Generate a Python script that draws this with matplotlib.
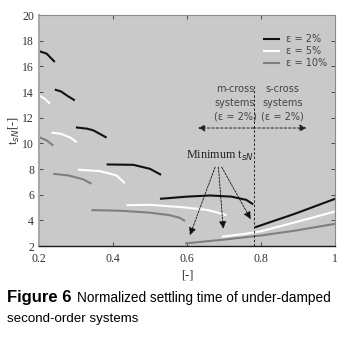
import matplotlib
matplotlib.use("Agg")
import matplotlib.pyplot as plt

# ---- data ----
# epsilon = 2 % (black) segments
b_x = [[0.200, 0.221, 0.243],
       [0.243, 0.260, 0.275, 0.297],
       [0.300, 0.330, 0.347, 0.383],
       [0.383, 0.455, 0.500, 0.530],
       [0.527, 0.600, 0.662, 0.720, 0.760, 0.779],
       [0.784, 0.892, 1.000]]
b_y = [[17.20, 17.00, 16.35],
       [14.20, 14.05, 13.75, 13.35],
       [11.25, 11.15, 11.02, 10.45],
       [8.36, 8.33, 8.02, 7.55],
       [5.68, 5.85, 5.94, 5.85, 5.60, 5.25],
       [3.46, 4.52, 5.68]]
# epsilon = 5 % (white) segments
w_x = [[0.200, 0.215, 0.230],
       [0.234, 0.260, 0.285, 0.302],
       [0.306, 0.365, 0.410, 0.432],
       [0.437, 0.500, 0.590, 0.653, 0.680, 0.707],
       [0.694, 0.757, 0.800, 0.892, 1.000]]
w_y = [[13.75, 13.50, 13.10],
       [10.84, 10.75, 10.45, 10.10],
       [7.95, 7.84, 7.50, 6.90],
       [5.18, 5.21, 5.02, 4.82, 4.63, 4.40],
       [2.73, 2.95, 3.15, 3.85, 4.69]]
# epsilon = 10 % (gray) segments
g_x = [[0.200, 0.220, 0.239],
       [0.239, 0.280, 0.320, 0.342],
       [0.342, 0.420, 0.500, 0.554, 0.580, 0.595],
       [0.595, 0.700, 0.800, 0.892, 1.000]]
g_y = [[10.50, 10.25, 9.84],
       [7.63, 7.50, 7.20, 6.85],
       [4.80, 4.75, 4.60, 4.40, 4.20, 3.95],
       [2.20, 2.50, 2.82, 3.20, 3.73]]

labels = ["ε = 2%", "ε = 5%", "ε = 10%"]
x_ticks = [0.2, 0.4, 0.6, 0.8, 1.0]
x_tick_labels = ["0.2", "0.4", "0.6", "0.8", "1"]
y_ticks = [2, 4, 6, 8, 10, 12, 14, 16, 18, 20]

boundary_x = 0.78          # m-cross / s-cross boundary
boundary_top = 14.5
arrow_y = 11.2
arrow_left, arrow_right = 0.63, 0.923
min_text_xy = (0.689, 9.05)
min_tails = [(0.676, 8.15), (0.685, 8.15), (0.694, 8.15)]
min_tips = [(0.608, 2.85), (0.698, 3.35), (0.772, 4.10)]

# ---- figure ----
fig = plt.figure(figsize=(3.44, 3.37), dpi=100)
ax = fig.add_axes([0.113, 0.27, 0.861, 0.685])
ax.set_facecolor("#c9c9c9")

styles = [("#111111", b_x, b_y), ("#ffffff", w_x, w_y), ("#7f7f7f", g_x, g_y)]
for (col, xs, ys), lab in zip(styles, labels):
    for i, (xx, yy) in enumerate(zip(xs, ys)):
        ax.plot(xx, yy, color=col, lw=1.5, solid_capstyle="butt",
                label=lab if i == 0 else None)

ax.set_xlim(0.2, 1.0)
ax.set_ylim(2, 20)
ax.set_xticks(x_ticks)
ax.set_xticklabels(x_tick_labels)
ax.set_yticks(y_ticks)
ax.tick_params(direction="in", length=3, width=0.6, top=True, right=True,
               labelsize=8.5, colors="#333333")
ax.tick_params(axis="x", pad=5)
ax.tick_params(axis="y", pad=3.5)
for t in ax.get_xticklabels() + ax.get_yticklabels():
    t.set_family("Liberation Serif")

ax.spines["bottom"].set_color("#1a1a1a")
ax.spines["bottom"].set_linewidth(1.0)
ax.spines["left"].set_color("#a8a8a8")
ax.spines["left"].set_linewidth(1.5)
ax.spines["top"].set_color("#8a8a8a")
ax.spines["right"].set_color("#8a8a8a")

ax.set_ylabel("t$_{sN}$[-]", family="Liberation Serif", fontsize=9,
              color="#333333", labelpad=0)
ax.set_xlabel("[-]", family="Liberation Serif", fontsize=9,
              color="#333333", labelpad=3)

# legend
leg = ax.legend(loc="upper right", bbox_to_anchor=(0.985, 0.935), frameon=False,
                fontsize=7, handlelength=1.7, handletextpad=0.6,
                labelspacing=0.2, borderaxespad=0)
for t in leg.get_texts():
    t.set_color("#444444")

# boundary line
ax.plot([boundary_x, boundary_x], [2, boundary_top], color="#222222",
        lw=0.7, ls=(0, (2.5, 2)))
ax.text(0.73, 13.15, "m-cross\nsystems\n(ε = 2%)", ha="center", va="center",
        fontsize=7, color="#444444", linespacing=1.45)
ax.text(0.858, 13.15, "s-cross\nsystems\n(ε = 2%)", ha="center", va="center",
        fontsize=7, color="#444444", linespacing=1.45)
for xe in (arrow_left, arrow_right):
    ax.annotate("", xy=(xe, arrow_y), xytext=(boundary_x, arrow_y),
                arrowprops=dict(arrowstyle="-|>", color="#222222", lw=0.7,
                                ls=(0, (2.5, 2)), mutation_scale=10,
                                shrinkA=0, shrinkB=0))

ax.text(min_text_xy[0], min_text_xy[1], "Minimum t$_{sN}$", ha="center",
        va="center", family="Liberation Serif", fontsize=8.7, color="#222222")
for tail, tip in zip(min_tails, min_tips):
    ax.annotate("", xy=tip, xytext=tail,
                arrowprops=dict(arrowstyle="-|>", color="#111111", lw=0.6,
                                ls=(0, (2.5, 1.5)), mutation_scale=11,
                                shrinkA=0, shrinkB=0))

# caption
fig.text(0.02, 0.116, "Figure 6", fontsize=12, weight="bold",
         family="Liberation Sans", va="center")
fig.text(0.224, 0.116, "Normalized settling time of under-damped",
         fontsize=9.85, family="Liberation Sans", va="center")
fig.text(0.02, 0.053, "second-order systems", fontsize=9.6,
         family="Liberation Sans", va="center")

fig.savefig("out.png", dpi=100)
